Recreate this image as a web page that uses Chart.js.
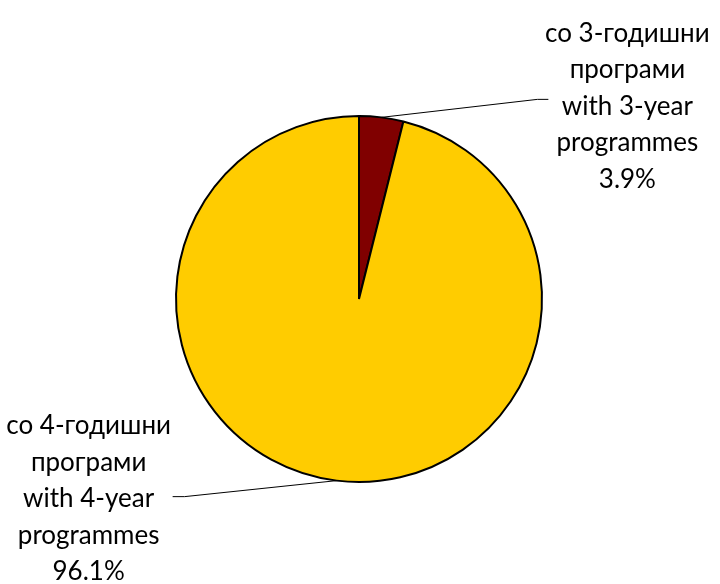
<!DOCTYPE html>
<html lang="mk">
<head>
  <meta charset="UTF-8">
  <title>Програми</title>
  <script src="https://cdn.jsdelivr.net/npm/chart.js"></script>
  <style>
    html, body { margin: 0; padding: 0; background: #fff; }
    #wrap { width: 720px; height: 584px; }
  </style>
</head>
<body>
  <div id="wrap"><canvas id="pie" width="720" height="584"></canvas></div>

  <script>
    // chart data
    const categories = [
      ['со 3-годишни', 'програми', 'with 3-year', 'programmes'],
      ['со 4-годишни', 'програми', 'with 4-year', 'programmes']
    ];
    const shares = [3.9, 96.1];
    const sliceColors = ['#800000', '#ffcc00'];

    // where each label sits, relative to the point where the leader meets the pie
    const labelLayout = [
      { lineEnd: [167, -18], lineKnee: [156, -18], text: [246, -84] },
      { lineEnd: [-164, 16], lineKnee: [-152, 16], text: [-248, -55] }
    ];
    const lineGap = 36.5;

    const leaderLabels = {
      id: 'leaderLabels',
      afterDatasetsDraw(chart) {
        const ctx = chart.ctx;
        const meta = chart.getDatasetMeta(0);
        meta.data.forEach((arc, i) => {
          const p = arc.getProps(['x', 'y', 'startAngle', 'endAngle', 'outerRadius'], true);
          const mid = (p.startAngle + p.endAngle) / 2;
          const ex = p.x + Math.cos(mid) * p.outerRadius;
          const ey = p.y + Math.sin(mid) * p.outerRadius;
          const lay = labelLayout[i];

          ctx.save();
          ctx.strokeStyle = '#000';
          ctx.lineWidth = 1;
          ctx.beginPath();
          ctx.moveTo(ex, ey);
          ctx.lineTo(ex + lay.lineKnee[0], ey + lay.lineKnee[1]);
          ctx.lineTo(ex + lay.lineEnd[0], ey + lay.lineEnd[1]);
          ctx.stroke();

          ctx.fillStyle = '#000';
          ctx.font = '26px Lato, "Open Sans", sans-serif';
          ctx.textAlign = 'center';
          ctx.textBaseline = 'middle';
          const lines = categories[i].concat([shares[i].toFixed(1) + '%']);
          const tx = ex + lay.text[0];
          const ty = ey + lay.text[1];
          lines.forEach((t, k) => ctx.fillText(t, tx, ty + k * lineGap));
          ctx.restore();
        });
      }
    };

    new Chart(document.getElementById('pie'), {
      type: 'pie',
      data: {
        labels: categories.map(c => c.join(' ')),
        datasets: [{
          data: shares,
          backgroundColor: sliceColors,
          borderColor: '#000',
          borderWidth: 2
        }]
      },
      options: {
        responsive: false,
        animation: false,
        layout: { padding: { left: 175, right: 177, top: 114, bottom: 100 } },
        plugins: {
          legend: { display: false },
          tooltip: { enabled: false }
        }
      },
      plugins: [leaderLabels]
    });
  </script>
</body>
</html>
